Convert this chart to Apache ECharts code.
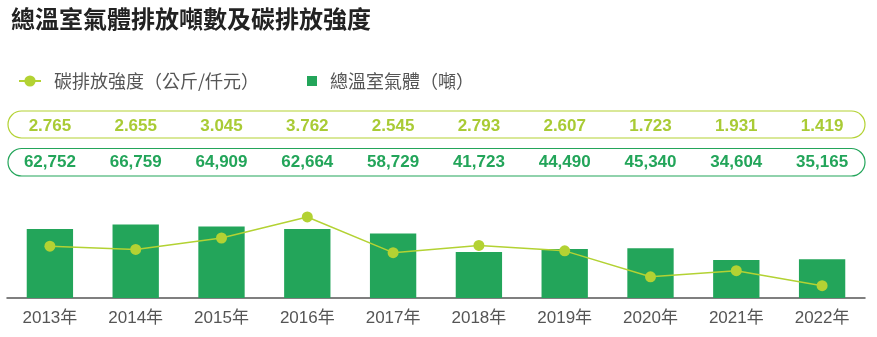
<!DOCTYPE html>
<html>
<head>
<meta charset="utf-8">
<script src="https://cdn.jsdelivr.net/npm/echarts@6/dist/echarts.min.js"></script>
<style>
  html, body { margin: 0; padding: 0; background: #fff; }
  #chart { width: 877px; height: 337px; }
</style>
</head>
<body>
<div id="chart"></div>
<script>
// Years shown on the category axis
const years = ['2013年', '2014年', '2015年', '2016年', '2017年', '2018年', '2019年', '2020年', '2021年', '2022年'];
// Total greenhouse gas emissions (tonnes)
const emissions = [62752, 66759, 64909, 62664, 58729, 41723, 44490, 45340, 34604, 35165];
// Carbon intensity (kg per thousand dollars)
const intensity = [2.765, 2.655, 3.045, 3.762, 2.545, 2.793, 2.607, 1.723, 1.931, 1.419];

const GREEN = '#23a55a';
const LIME = '#b3d233';
const CJK = '"Noto Sans CJK TC", "Noto Sans", sans-serif';
const NUM = '"Liberation Sans", Arial, "Noto Sans CJK TC", sans-serif';

const chart = echarts.init(document.getElementById('chart'), null, { renderer: 'canvas' });

const legendText = { fontFamily: CJK, fontSize: 18, color: '#555', padding: [0, 0, 0, 8] };

const option = {
  animation: false,
  backgroundColor: '#ffffff',
  title: {
    text: '總溫室氣體排放噸數及碳排放強度',
    left: 6,
    top: 2,
    textStyle: { fontFamily: CJK, fontSize: 24, fontWeight: 'bold', color: '#222' }
  },
  legend: [
    {
      left: 13,
      top: 67,
      itemWidth: 22,
      itemHeight: 14,
      textStyle: legendText,
      data: [{ name: '碳排放強度（公斤/仟元）' }]
    },
    {
      left: 302,
      top: 67,
      itemWidth: 10,
      itemHeight: 10,
      textStyle: legendText,
      data: [{ name: '總溫室氣體（噸）', icon: 'rect' }]
    }
  ],
  grid: { left: 7, right: 12, top: 188, bottom: 39, containLabel: false },
  graphic: [
    { type: 'rect', shape: { x: 8, y: 111, width: 857, height: 27, r: 13.5 },
      style: { fill: 'none', stroke: LIME, lineWidth: 1.2 }, silent: true },
    { type: 'rect', shape: { x: 8, y: 148.5, width: 857, height: 27.5, r: 13.75 },
      style: { fill: 'none', stroke: GREEN, lineWidth: 1.2 }, silent: true }
  ],
  xAxis: [
    {
      type: 'category',
      data: years,
      position: 'bottom',
      axisLine: { lineStyle: { color: '#555', width: 1.5 } },
      axisTick: { inside: true, length: 4, lineStyle: { color: '#555' } },
      axisLabel: { fontFamily: NUM, fontSize: 17, color: '#555', margin: 12 }
    },
    {
      // intensity value row
      type: 'category',
      data: years,
      position: 'top',
      offset: 62,
      axisLine: { show: false },
      axisTick: { show: false },
      axisLabel: {
        margin: 0,
        verticalAlign: 'middle',
        fontFamily: NUM, fontSize: 17, fontWeight: 'bold', color: '#a9cb35',
        formatter: (v, i) => intensity[i].toFixed(3)
      }
    },
    {
      // emissions value row
      type: 'category',
      data: years,
      position: 'top',
      offset: 25.5,
      axisLine: { show: false },
      axisTick: { show: false },
      axisLabel: {
        margin: 0,
        verticalAlign: 'middle',
        fontFamily: NUM, fontSize: 17, fontWeight: 'bold', color: GREEN,
        formatter: (v, i) => emissions[i].toLocaleString('en-US')
      }
    }
  ],
  yAxis: [
    { type: 'value', min: 0, max: 100000, show: false, splitLine: { show: false } },
    { type: 'value', min: 1, max: 4.75, show: false, splitLine: { show: false } }
  ],
  series: [
    {
      name: '碳排放強度（公斤/仟元）',
      type: 'line',
      xAxisIndex: 0,
      yAxisIndex: 1,
      z: 3,
      data: intensity,
      symbol: 'circle',
      symbolSize: 11,
      lineStyle: { color: LIME, width: 1.5 },
      itemStyle: { color: LIME }
    },
    {
      name: '總溫室氣體（噸）',
      type: 'bar',
      xAxisIndex: 0,
      yAxisIndex: 0,
      z: 2,
      data: emissions,
      barWidth: '54%',
      itemStyle: { color: GREEN }
    }
  ]
};

chart.setOption(option);
</script>
</body>
</html>
